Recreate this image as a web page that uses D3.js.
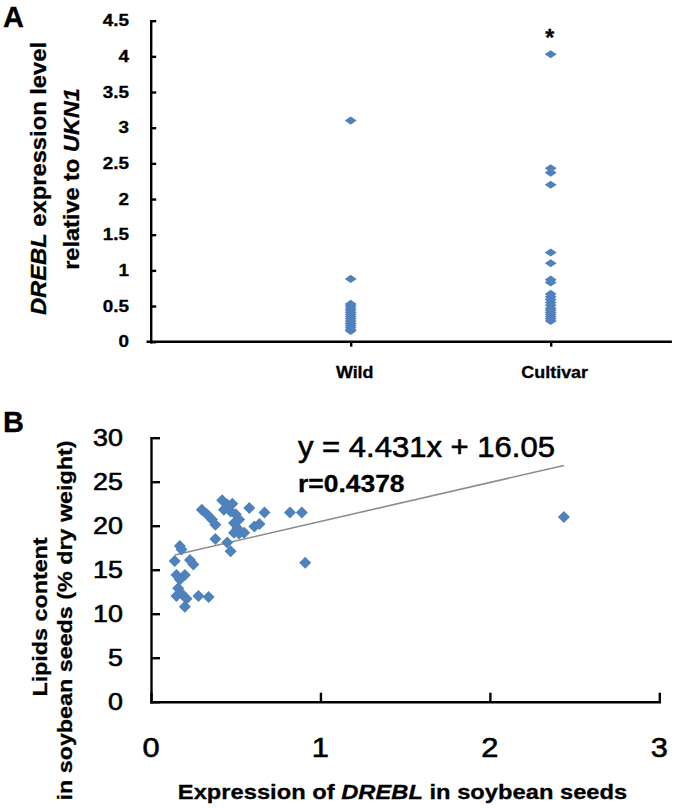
<!DOCTYPE html>
<html>
<head>
<meta charset="utf-8">
<script src="https://cdn.jsdelivr.net/npm/d3@7"></script>
<style>
html, body { margin: 0; padding: 0; background: #ffffff; }
svg { display: block; }
</style>
</head>
<body>
<svg id="chart" width="675" height="808"></svg>
<script>
// ---------------- Data: Panel A ----------------
const groups = ["Wild", "Cultivar"];
const wildValues = [3.1, 0.88, 0.53, 0.5, 0.47, 0.44, 0.41, 0.38, 0.35, 0.32, 0.29, 0.26, 0.23, 0.2, 0.17, 0.15];
const cultivarValues = [4.03, 2.43, 2.37, 2.2, 1.25, 1.1, 0.87, 0.83, 0.67, 0.63, 0.59, 0.55, 0.51, 0.47, 0.44, 0.41, 0.38, 0.35, 0.32, 0.29];
const yTicksA = [0, 0.5, 1, 1.5, 2, 2.5, 3, 3.5, 4, 4.5];
const yTickLabelsA = ["0", "0.5", "1", "1.5", "2", "2.5", "3", "3.5", "4", "4.5"];

// ---------------- Data: Panel B ----------------
const expressionX = [0.14, 0.17, 0.18, 0.15, 0.2, 0.23, 0.25, 0.17, 0.16, 0.15, 0.18, 0.21, 0.2, 0.28, 0.34,
  0.30, 0.33, 0.36, 0.38, 0.42, 0.45, 0.48, 0.43, 0.47, 0.50, 0.52, 0.49, 0.51, 0.49, 0.55,
  0.58, 0.61, 0.64, 0.67, 0.82, 0.89, 0.91, 0.38, 0.45, 0.47, 0.52, 2.437];
const lipidsY = [16.0, 17.7, 17.3, 14.4, 14.4, 16.1, 15.6, 13.9, 12.9, 12.0, 12.3, 11.7, 10.8, 12.0, 11.9,
  21.8, 21.3, 20.7, 20.1, 22.9, 22.4, 22.5, 21.8, 21.6, 21.3, 20.7, 20.3, 19.7, 19.2, 19.2,
  22.0, 19.9, 20.2, 21.5, 21.5, 21.5, 15.8, 18.5, 18.1, 17.1, 19.1, 21.0];
const xTicksB = [0, 1, 2, 3];
const yTicksB = [0, 5, 10, 15, 20, 25, 30];
const fitSlope = 4.431, fitIntercept = 16.05, fitR = 0.4378;

// ---------------- Style ----------------
const FONT = "'Liberation Sans', Arial, Helvetica, sans-serif";
const BLUE = "#4f81bd";
const svg = d3.select("#chart");

function label(parent, parts, x, y, o) {
  const g = parent.append("g")
    .attr("transform", `translate(${x},${y}) rotate(${o.rotate || 0}) scale(${o.sx || 1},1)`);
  const t = g.append("text")
    .attr("text-anchor", o.anchor || "middle")
    .attr("font-size", o.size)
    .attr("font-weight", o.weight || "normal")
    .attr("font-family", FONT)
    .attr("fill", "#000")
    .attr("stroke", "#000")
    .attr("stroke-width", o.sw != null ? o.sw : (o.weight === "bold" ? 0.3 : 0.6))
    .attr("dy", o.dy || 0);
  parts.forEach(p => {
    if (typeof p === "string") t.append("tspan").text(p);
    else t.append("tspan").attr("font-style", "italic").text(p.i);
  });
  return t;
}

function styleAxis(g, w) {
  g.selectAll("path, line").attr("stroke", "#000").attr("stroke-width", w);
  g.select(".domain").attr("stroke-linecap", "square");
  g.selectAll("text").remove();
}

const diamond = d3.symbol().type(d3.symbolSquare).size(72);

// ================= Panel A =================
const gA = svg.append("g");
const xA = d3.scaleLinear().domain([0, 2.6]).range([150.7, 670.7]);
const yA = d3.scaleLinear().domain([0, 4.5]).range([341.7, 20.7]);
const groupPos = { Wild: 1, Cultivar: 2 };

const xAxisA = gA.append("g").attr("transform", `translate(0,${yA(0)})`)
  .call(d3.axisBottom(xA).tickValues([1, 2]).tickSizeInner(5).tickSizeOuter(0));
styleAxis(xAxisA, 2.4);
xAxisA.select(".domain").attr("d", `M${xA(0) - 3},0H${xA(2.6)}`);

const yAxisA = gA.append("g").attr("transform", `translate(${xA(0)},0)`)
  .call(d3.axisLeft(yA).tickValues(yTicksA).tickSizeInner(-5.5).tickSizeOuter(0));
styleAxis(yAxisA, 2.4);

yTicksA.forEach((v, i) => {
  label(gA, [yTickLabelsA[i]], 129, yA(v), { size: 16, weight: "bold", anchor: "end", dy: "0.36em", sx: 1.18 });
});
groups.forEach(gname => {
  label(gA, [gname], xA(groupPos[gname]) + 4, 378, { size: 16, weight: "bold", sx: 1.12 });
});

const seriesA = [
  { name: "Wild", values: wildValues },
  { name: "Cultivar", values: cultivarValues }
];
seriesA.forEach(s => {
  gA.append("g").selectAll("path").data(s.values).join("path")
    .attr("d", diamond)
    .attr("fill", BLUE)
    .attr("transform", d => `translate(${xA(groupPos[s.name])},${yA(d)}) scale(1,0.68) rotate(45)`);
});

// significance asterisk above the cultivar group
label(gA, ["*"], xA(groupPos.Cultivar) - 1, yA(d3.max(cultivarValues)) - 8, { size: 23, weight: "bold" });

// y title A
label(gA, [{ i: "DREBL" }, " expression level"], 46, 178.5, { size: 22, weight: "bold", rotate: -90, sx: 1.08 });
label(gA, ["relative to ", { i: "UKN1" }], 79, 179, { size: 22, weight: "bold", rotate: -90, sx: 1.07 });

// panel letter
label(gA, ["A"], 3, 27, { size: 29, weight: "bold", anchor: "start" });

// ================= Panel B =================
const gB = svg.append("g");
const xB = d3.scaleLinear().domain([0, 3]).range([151, 659.3]);
const yB = d3.scaleLinear().domain([0, 30]).range([701.7, 437.7]);

const xAxisB = gB.append("g").attr("transform", `translate(0,${yB(0)})`)
  .call(d3.axisBottom(xB).tickValues(xTicksB).tickSizeInner(-9).tickSizeOuter(0));
styleAxis(xAxisB, 2.4);
const yAxisB = gB.append("g").attr("transform", `translate(${xB(0)},0)`)
  .call(d3.axisLeft(yB).tickValues(yTicksB).tickSizeInner(-9).tickSizeOuter(0));
styleAxis(yAxisB, 2.4);

yTicksB.forEach(v => {
  label(gB, [String(v)], 123, yB(v), { size: 24, anchor: "end", dy: "0.36em", sx: 1.12 });
});
xTicksB.forEach(v => {
  label(gB, [String(v)], xB(v), 757, { size: 28, sx: 1.1 });
});

// trend line
const xMin = d3.min(expressionX), xMax = d3.max(expressionX);
gB.append("line")
  .attr("x1", xB(xMin)).attr("y1", yB(fitSlope * xMin + fitIntercept))
  .attr("x2", xB(xMax)).attr("y2", yB(fitSlope * xMax + fitIntercept))
  .attr("stroke", "#8c8c8c").attr("stroke-width", 1.6);

gB.append("g").selectAll("path").data(expressionX).join("path")
  .attr("d", diamond)
  .attr("fill", BLUE)
  .attr("transform", (d, i) => `translate(${xB(d)},${yB(lipidsY[i])}) rotate(45)`);

label(gB, [`y = ${fitSlope}x + ${fitIntercept}`], 298, 457, { size: 29, anchor: "start", sx: 1.07 });
label(gB, [`r=${fitR}`], 298, 491.5, { size: 23, weight: "bold", anchor: "start", sx: 1.15 });

// axis titles B
label(gB, ["Expression of ", { i: "DREBL" }, " in soybean seeds"], 402.5, 799, { size: 21, weight: "bold", sx: 1.13 });
label(gB, ["Lipids content"], 47, 617, { size: 21, weight: "bold", rotate: -90, sx: 1.11 });
label(gB, ["in soybean seeds (% dry weight)"], 72, 620.5, { size: 21, weight: "bold", rotate: -90, sx: 1.11 });

label(gB, ["B"], 3, 432, { size: 29, weight: "bold", anchor: "start" });
</script>
</body>
</html>
